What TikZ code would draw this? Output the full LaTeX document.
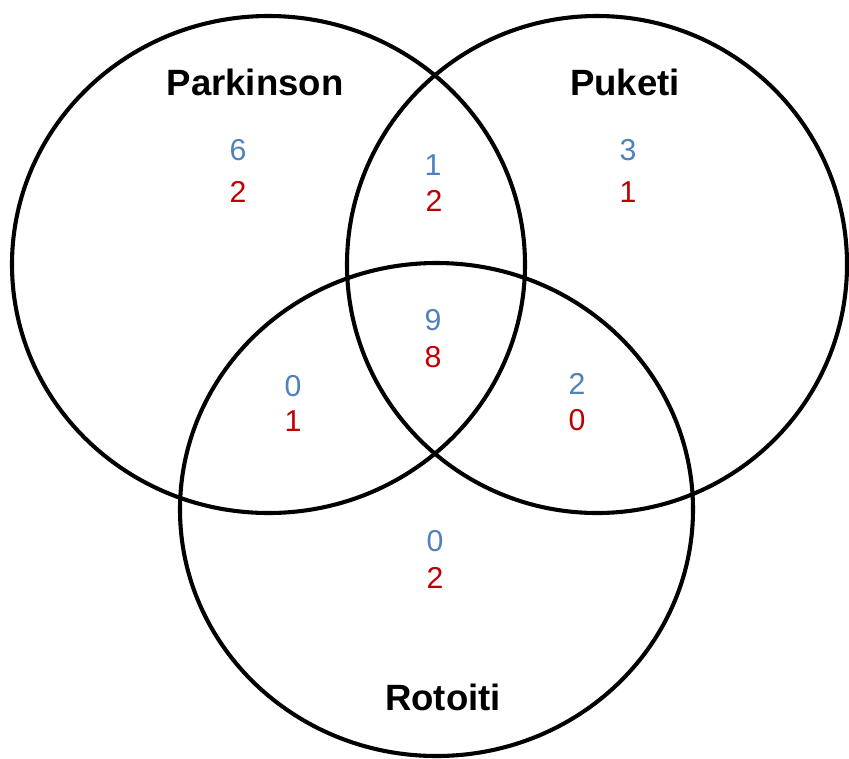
\documentclass[tikz,border=0pt]{standalone}
\usepackage{fontspec}
\setmainfont{Liberation Sans}
\definecolor{cntblue}{HTML}{4F81BD}
\definecolor{cntred}{HTML}{C00000}

\begin{document}
\begin{tikzpicture}[x=0.025cm,y=-0.025cm,
  ring/.style={line width=2.9pt},
  setname/.style={font=\fontsize{26}{30}\selectfont\bfseries},
  nblue/.style={text=cntblue,font=\fontsize{21.5}{24}\selectfont},
  nred/.style={text=cntred,font=\fontsize{21.5}{24}\selectfont}]
\useasboundingbox (0,0) rectangle (849,758);
\clip (0,0) rectangle (849,758);
\draw [ring] (268.5,264.5) ellipse [x radius=256.5, y radius=248.5];
\draw [ring] (597,264.5) ellipse [x radius=250, y radius=248.5];
\draw [ring] (436.5,509.5) ellipse [x radius=256.5, y radius=246.5];

\node [setname] (parkinson) at (255,82) {Parkinson};
\node [setname] (puketi) at (625,82) {Puketi};
\node [setname] (rotoiti) at (443,697) {Rotoiti};

\node [nblue] (pkb) at (238,150) {6};
\node [nred]  (pkr) at (238,192) {2};
\node [nblue] (pub) at (628,150) {3};
\node [nred]  (pur) at (628,192) {1};
\node [nblue] (pkpub) at (433,165) {1};
\node [nred]  (pkpur) at (434,201) {2};
\node [nblue] (allb) at (433,320) {9};
\node [nred]  (allr) at (433,357) {8};
\node [nblue] (pkrob) at (293,386) {0};
\node [nred]  (pkror) at (293,421) {1};
\node [nblue] (purob) at (577,384) {2};
\node [nred]  (puror) at (577,420) {0};
\node [nblue] (rob) at (435,541) {0};
\node [nred]  (ror) at (435,578) {2};
\end{tikzpicture}
\end{document}
